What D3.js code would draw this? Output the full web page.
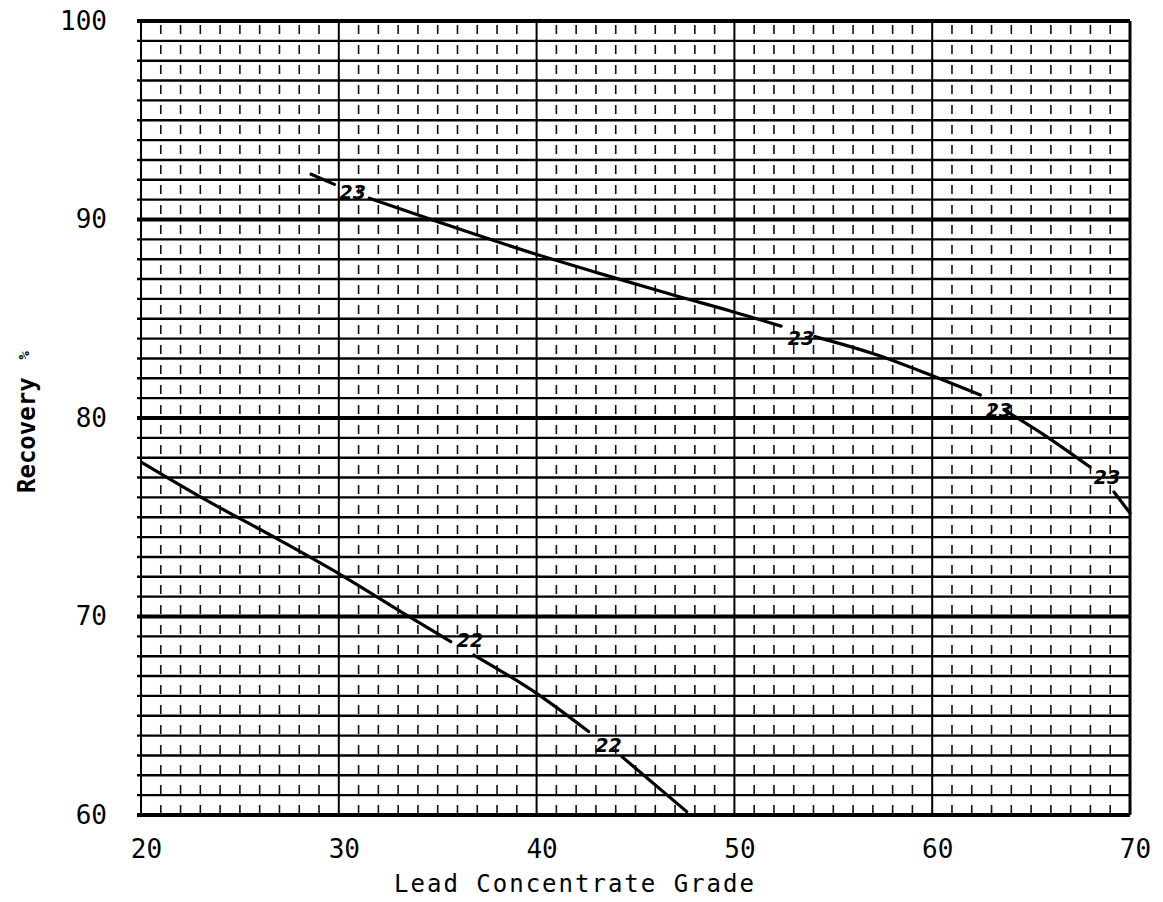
<!DOCTYPE html>
<html>
<head>
<meta charset="utf-8">
<script src="https://cdn.jsdelivr.net/npm/d3@7"></script>
<style>
  html, body { margin: 0; padding: 0; background: #fff; }
  svg { display: block; }
</style>
</head>
<body>
<svg id="chart" width="1163" height="902"></svg>
<script>
// ---- data ----
const xTicks = [20, 30, 40, 50, 60, 70];
const yTicks = [60, 70, 80, 90, 100];
const xTitle = "Lead Concentrate Grade";
const yTitle = "Recovery";
const yUnit = "%";

// curve "23" (null = break for hand-written label)
const curve23 = [
  [28.60, 92.28], [29.78, 91.77], null,
  [31.54, 91.07], [34.90, 89.92], [39.94, 88.26], [43.13, 87.30], [47.17, 86.12],
  [49.84, 85.38], [52.36, 84.63], null,
  [54.06, 84.10], [57.23, 83.17], [59.26, 82.42], [62.44, 81.16], null,
  [63.65, 80.40], [65.82, 79.04], [67.98, 77.53], null,
  [69.19, 76.27], [70.00, 75.21]
];
// curve "22"
const curve22 = [
  [20.03, 77.77], [23.14, 75.95], [27.00, 73.85], [30.12, 72.09], [33.56, 69.99],
  [35.66, 68.73], null,
  [36.83, 68.06], [40.11, 66.05], [42.63, 64.20], null,
  [44.31, 62.94], [47.59, 60.17]
];
const labels23 = [[30.71, 91.39], [53.37, 84.03], [63.37, 80.40], [68.84, 77.03]];
const labels22 = [[36.63, 68.84], [43.64, 63.55]];

// ---- drawing ----
const svg = d3.select("#chart");
const x = d3.scaleLinear().domain([20, 70]).range([141, 1130]);
const y = d3.scaleLinear().domain([60, 100]).range([815, 21]);

const grid = svg.append("g");
// vertical minor (dashed)
grid.selectAll("line.vmin")
  .data(d3.range(21, 70).filter(v => v % 10 !== 0))
  .join("line")
  .attr("x1", d => x(d)).attr("x2", d => x(d))
  .attr("y1", y(100)).attr("y2", y(60))
  .attr("stroke", "#111").attr("stroke-width", 1.6)
  .attr("stroke-dasharray", "9,11").attr("stroke-dashoffset", -4);
// vertical major
grid.selectAll("line.vmaj")
  .data([20, 30, 40, 50, 60, 70])
  .join("line")
  .attr("x1", d => x(d)).attr("x2", d => x(d))
  .attr("y1", y(100)).attr("y2", y(60))
  .attr("stroke", "#000").attr("stroke-width", d => d === 70 ? 3 : 2);
// horizontal minor
grid.selectAll("line.hmin")
  .data(d3.range(61, 100).filter(v => v % 10 !== 0))
  .join("line")
  .attr("x1", x(20) - 4).attr("x2", x(70))
  .attr("y1", d => y(d)).attr("y2", d => y(d))
  .attr("stroke", "#000").attr("stroke-width", 2.4);
// horizontal major
grid.selectAll("line.hmaj")
  .data([60, 70, 80, 90, 100])
  .join("line")
  .attr("x1", x(20) - 4).attr("x2", x(70))
  .attr("y1", d => y(d)).attr("y2", d => y(d))
  .attr("stroke", "#000").attr("stroke-width", 4);

// curves
const line = d3.line()
  .defined(d => d !== null)
  .x(d => x(d[0])).y(d => y(d[1]))
  .curve(d3.curveMonotoneX);
[curve23, curve22].forEach(c => {
  svg.append("path").datum(c)
    .attr("d", line)
    .attr("fill", "none").attr("stroke", "#000")
    .attr("stroke-width", 3.2).attr("stroke-linecap", "round");
});

// hand-written labels
function drawLabels(arr, txt) {
  svg.append("g").selectAll("text").data(arr).join("text")
    .attr("x", d => x(d[0])).attr("y", d => y(d[1]))
    .attr("text-anchor", "middle").attr("dominant-baseline", "central")
    .attr("font-family", "DejaVu Sans").attr("font-style", "italic")
    .attr("font-weight", "bold").attr("font-size", 19)
    .attr("fill", "#000").text(txt);
}
drawLabels(labels23, "23");
drawLabels(labels22, "22");

// axes
const fontAx = "'DejaVu Sans Mono', monospace";
const xAxis = svg.append("g").attr("transform", `translate(0,${y(60)})`)
  .call(d3.axisBottom(x).tickValues(xTicks).tickSize(0).tickPadding(25));
xAxis.select(".domain").remove();
xAxis.selectAll("text").attr("font-family", fontAx).attr("font-size", 26)
  .attr("dx", 5).attr("fill", "#000");

const yAxis = svg.append("g").attr("transform", `translate(${x(20)},0)`)
  .call(d3.axisLeft(y).tickValues(yTicks).tickSize(0).tickPadding(34));
yAxis.select(".domain").remove();
yAxis.selectAll("text").attr("font-family", fontAx).attr("font-size", 26)
  .attr("fill", "#000");

// titles
svg.append("text")
  .attr("x", 575).attr("y", 892)
  .attr("text-anchor", "middle")
  .attr("font-family", fontAx).attr("font-size", 24)
  .attr("letter-spacing", 2)
  .attr("fill", "#000").text(xTitle);

const yt = svg.append("text")
  .attr("transform", "translate(35,422) rotate(-90)")
  .attr("text-anchor", "middle")
  .attr("font-family", fontAx).attr("font-size", 24).attr("font-weight", "bold")
  .attr("fill", "#000");
yt.append("tspan").text(yTitle);
yt.append("tspan").attr("dx", 18).attr("font-size", 14).attr("dy", -6).text(yUnit);
</script>
</body>
</html>
